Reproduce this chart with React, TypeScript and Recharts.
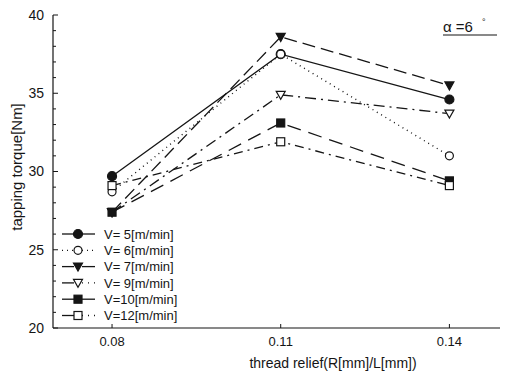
import React from 'react';
import { LineChart, Line, XAxis, YAxis } from 'recharts';

// thread relief R/L on the x axis
const relief = [0.08, 0.11, 0.14];

// tapping torque [Nm] per cutting speed
const v5 = [29.7, 37.5, 34.6];
const v6 = [28.7, 37.5, 31.0];
const v7 = [27.4, 38.6, 35.5];
const v9 = [27.4, 34.9, 33.7];
const v10 = [27.4, 33.1, 29.4];
const v12 = [29.1, 31.9, 29.1];

const speedLabels = ['V= 5[m/min]', 'V= 6[m/min]', 'V= 7[m/min]', 'V= 9[m/min]', 'V=10[m/min]', 'V=12[m/min]'];
const xTicks = [0.08, 0.11, 0.14];
const yTicks = [20, 21, 22, 23, 24, 25, 26, 27, 28, 29, 30, 31, 32, 33, 34, 35, 36, 37, 38, 39, 40];

const INK = '#151515';
const FONT = '"Liberation Sans", Arial, sans-serif';

const data = relief.map((r, i) => ({
  r,
  v5: v5[i],
  v6: v6[i],
  v7: v7[i],
  v9: v9[i],
  v10: v10[i],
  v12: v12[i],
}));

type Shape = 'circle' | 'triangle' | 'square';

function Marker({ cx, cy, shape, open }: { cx: number; cy: number; shape: Shape; open: boolean }) {
  const fill = open ? '#fff' : INK;
  if (shape === 'circle') {
    return <circle cx={cx} cy={cy} r={open ? 4 : 4.5} fill={fill} stroke={INK} strokeWidth={1.2} />;
  }
  if (shape === 'triangle') {
    const pts = `${cx - 4.5},${cy - 3.5} ${cx + 4.5},${cy - 3.5} ${cx},${cy + 4.5}`;
    return <polygon points={pts} fill={fill} stroke={INK} strokeWidth={1.2} />;
  }
  return <rect x={cx - 4} y={cy - 4} width={8} height={8} fill={fill} stroke={INK} strokeWidth={1.2} />;
}

// legend sample: left part / right part dash patterns ('' = solid)
const seriesDefs = [
  { key: 'v5', shape: 'circle' as Shape, open: false, dash: undefined, lg: ['', ''] },
  { key: 'v6', shape: 'circle' as Shape, open: true, dash: '1 4', lg: ['1 4', '1 4'] },
  { key: 'v7', shape: 'triangle' as Shape, open: false, dash: '13 6', lg: ['', ''] },
  { key: 'v9', shape: 'triangle' as Shape, open: true, dash: '11 5 2 5', lg: ['', '1 5'] },
  { key: 'v10', shape: 'square' as Shape, open: false, dash: '14 8', lg: ['', ''] },
  { key: 'v12', shape: 'square' as Shape, open: true, dash: '9 5 2 5', lg: ['', '1 5'] },
];

const makeDot = (shape: Shape, open: boolean) => (props: any) => (
  <Marker key={`${shape}-${open}-${props.index}`} cx={props.cx} cy={props.cy} shape={shape} open={open} />
);

function YTick(props: any) {
  const { x, y, payload } = props;
  const major = payload.value % 5 === 0;
  return (
    <g>
      <line x1={x + 8} x2={x + 8 + (major ? 5 : 3)} y1={y} y2={y} stroke={INK} strokeWidth={1} />
      {major && (
        <text x={x - 1} y={y} dy="0.35em" textAnchor="end" fontSize={14} fontFamily={FONT} fill={INK}>
          {payload.value}
        </text>
      )}
    </g>
  );
}

function XTick(props: any) {
  const { x, y, payload } = props;
  return (
    <g>
      <line x1={x} x2={x} y1={y - 9} y2={y - 13} stroke={INK} strokeWidth={1} />
      <text x={x} y={y} dy="0.71em" textAnchor="middle" fontSize={13} fontFamily={FONT} fill={INK}>
        {payload.value.toFixed(2)}
      </text>
    </g>
  );
}

function SpeedLegend({ left, top }: { left: number; top: number }) {
  return (
    <g transform={`translate(${left},${top})`}>
      {seriesDefs.map((s, i) => {
        const y = i * 16.3;
        return (
          <g key={s.key}>
            <line x1={2} x2={14} y1={y} y2={y} stroke={INK} strokeWidth={1.3} strokeDasharray={s.lg[0] || undefined} />
            <line x1={22} x2={35} y1={y} y2={y} stroke={INK} strokeWidth={1.3} strokeDasharray={s.lg[1] || undefined} />
            <Marker cx={18} cy={y} shape={s.shape} open={s.open} />
            <text x={44} y={y} dy="0.36em" fontSize={13} fontFamily={FONT} fill={INK}>
              {speedLabels[i]}
            </text>
          </g>
        );
      })}
    </g>
  );
}

export default function App() {
  return (
    <div style={{ position: 'absolute', left: 0, top: 0, width: 505, height: 379, background: '#fff' }}>
      <LineChart width={505} height={379} data={data} margin={{ top: 15, right: 5, left: 8, bottom: 21 }}>
        <XAxis
          dataKey="r"
          type="number"
          domain={[0.0695, 0.149]}
          ticks={xTicks}
          tick={<XTick />}
          tickLine={false}
          tickSize={0}
          tickMargin={9}
          height={30}
          axisLine={{ stroke: INK, strokeWidth: 1.2 }}
        />
        <XAxis
          xAxisId="top"
          orientation="top"
          type="number"
          domain={[0.0695, 0.149]}
          tick={false}
          tickLine={false}
          height={0}
          axisLine={{ stroke: INK, strokeWidth: 1.2 }}
        />
        <YAxis
          type="number"
          domain={[20, 40]}
          ticks={yTicks}
          interval={0}
          tick={<YTick />}
          tickLine={false}
          tickSize={0}
          tickMargin={8}
          width={45}
          axisLine={{ stroke: INK, strokeWidth: 1.2 }}
        />
        <YAxis
          yAxisId="right"
          orientation="right"
          type="number"
          domain={[20, 40]}
          tick={false}
          tickLine={false}
          width={0}
          axisLine={{ stroke: '#9a9a9a', strokeWidth: 1 }}
        />
        {seriesDefs.map((s) => (
          <Line
            key={s.key}
            dataKey={s.key}
            stroke={INK}
            strokeWidth={s.key === 'v6' ? 1.4 : 1.3}
            strokeDasharray={s.dash}
            dot={makeDot(s.shape, s.open)}
            activeDot={false}
            isAnimationActive={false}
          />
        ))}
      </LineChart>
      <svg width={505} height={379} style={{ position: 'absolute', left: 0, top: 0, pointerEvents: 'none' }}>
        <SpeedLegend left={60} top={234} />
        <text x={22} y={167} transform="rotate(-90 22 167)" textAnchor="middle" fontSize={15} fontFamily={FONT} fill={INK}>
          tapping torque[Nm]
        </text>
        <text x={333} y={368} textAnchor="middle" fontSize={14} fontFamily={FONT} fill={INK}>
          thread relief(R[mm]/L[mm])
        </text>
        <text x={443} y={32} fontSize={15} fontFamily={FONT} fill={INK}>
          α =6
        </text>
        <text x={482} y={25} fontSize={9} fontFamily={FONT} fill={INK}>
          °
        </text>
        <line x1={443} x2={497} y1={35} y2={35} stroke={INK} strokeWidth={1.2} />
      </svg>
    </div>
  );
}
